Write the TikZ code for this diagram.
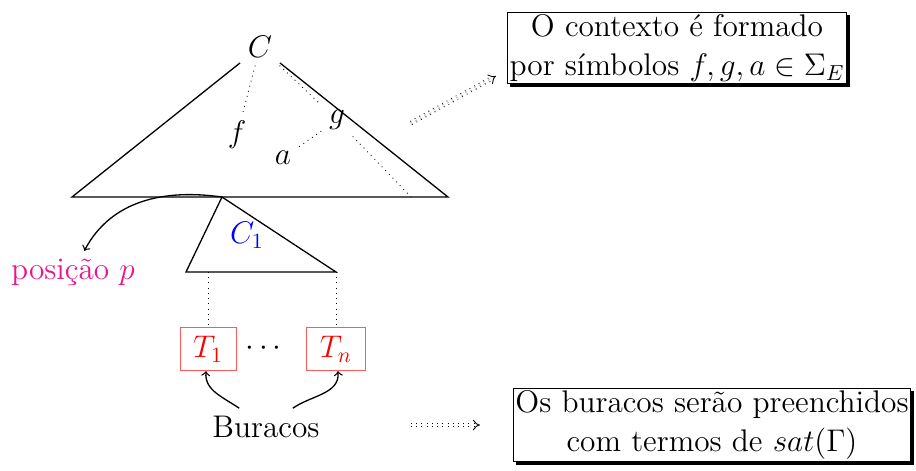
\documentclass[tikz,border=0pt]{standalone}
\usepackage{xcolor}
\usepackage{tikz}
\usepackage{amsmath}
\usetikzlibrary{arrows.meta, positioning, shadows}
\definecolor{posmagenta}{HTML}{E8168E}
\definecolor{holered}{HTML}{FF0000}
\tikzstyle{hole} = [rectangle, thin, draw=holered!65, text=holered, minimum height=20pt, inner xsep=6pt, inner ysep=4pt]
\tikzstyle{note} = [rectangle, draw=black, fill=white, align=center, inner sep=1pt, drop shadow={shadow xshift=1.4pt, shadow yshift=-1.4pt, fill=black, opacity=1}]
\tikzstyle{implies} = [thin, double, dotted, double distance=1.3pt, -{Implies}]
\tikzstyle{link} = [thin, dotted]
\tikzstyle{arrow} = [->, >=to]

\begin{document}
\begin{tikzpicture}[x=0.46pt, y=-0.46pt, semithick, every node/.style={font=\Large}]
    \useasboundingbox (0,0) rectangle (916,470);

    % Context
    \node (ctx) at (260,47) {$C$};
    \coordinate (bl) at (72,197);
    \coordinate (br) at (448,197);
    \draw (ctx) -- (bl) -- (br) -- (ctx);

    % Symbols inside the context
    \node (f) at (237,135) {$f$};
    \node (g) at (337,120) {$g$};
    \node (a) at (283,158) {$a$};
    \coordinate (gb) at (411,197);
    \draw[link] (ctx) -- (f);
    \draw[link] (ctx) -- (g);
    \draw[link] (g) -- (a);
    \draw[link] (g) -- (gb);

    % Sub-context at position p
    \coordinate (p) at (222,197);
    \coordinate (c1l) at (186,272);
    \coordinate (c1r) at (336,272);
    \coordinate (h1) at (208,272);
    \draw (p) -- (c1r) -- (c1l) -- cycle;
    \node[text=blue] (c1) at (247,235) {$C_1$};

    % Holes
    \node[hole] (t1) at (208,349) {$T_1$};
    \node[hole] (tn) at (336,349) {$T_n$};
    \node (dots) at (266,349) {$\cdots$};
    \draw[link] (h1) -- (t1);
    \draw[link] (c1r) -- (tn);

    \node (bur) at (266,427) {Buracos};
    \draw[arrow] (bur) to[out=145, in=-95] (t1);
    \draw[arrow] (bur) to[out=35, in=-85] (tn);

    % Position
    \node[text=posmagenta] (pos) at (73,272) {posição $p$};
    \draw[arrow] (p) to[out=172, in=62] (pos);

    % Notes
    \node[note] (box1) at (677,48) {O contexto é formado\\por símbolos $f,g,a\in\Sigma_E$};
    \node[note] (box2) at (712,425) {Os buracos serão preenchidos\\com termos de $sat(\Gamma)$};
    \coordinate (s1) at (411,123);
    \coordinate (e1) at (496,76);
    \coordinate (s2) at (411,425);
    \draw[implies] (s1) -- (e1);
    \draw[implies, shorten >=15pt] (s2) -- (box2.west);
\end{tikzpicture}
\end{document}
